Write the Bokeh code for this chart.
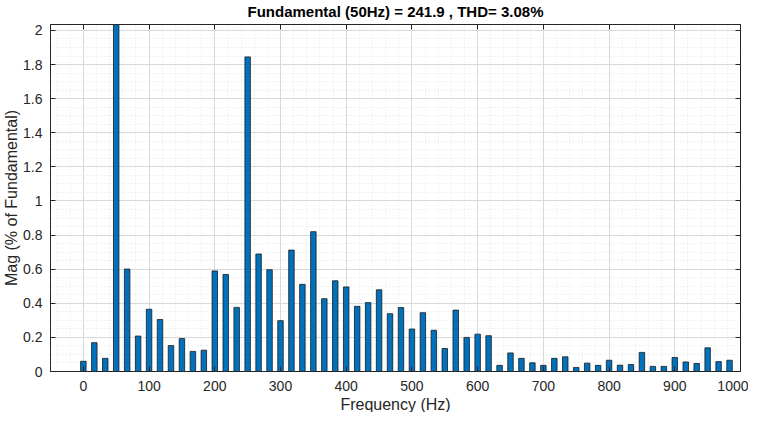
from bokeh.plotting import figure
from bokeh.models import LinearAxis, FixedTicker, Range1d, Title
from bokeh.embed import file_html
from bokeh.resources import INLINE

# Frequencies (Hz) and magnitudes (% of fundamental)
freqs = [0, 16.67, 33.33, 50, 66.67, 83.33, 100, 116.67, 133.33, 150,
         166.67, 183.33, 200, 216.67, 233.33, 250, 266.67, 283.33, 300, 316.67,
         333.33, 350, 366.67, 383.33, 400, 416.67, 433.33, 450, 466.67, 483.33,
         500, 516.67, 533.33, 550, 566.67, 583.33, 600, 616.67, 633.33, 650,
         666.67, 683.33, 700, 716.67, 733.33, 750, 766.67, 783.33, 800, 816.67,
         833.33, 850, 866.67, 883.33, 900, 916.67, 933.33, 950, 966.67, 983.33]
mags = [0.060, 0.169, 0.077, 100.0, 0.601, 0.208, 0.365, 0.305, 0.152, 0.193,
        0.118, 0.125, 0.590, 0.569, 0.376, 1.845, 0.689, 0.597, 0.298, 0.712,
        0.511, 0.820, 0.427, 0.532, 0.496, 0.382, 0.404, 0.479, 0.339, 0.375,
        0.249, 0.345, 0.242, 0.135, 0.360, 0.200, 0.219, 0.210, 0.036, 0.109,
        0.077, 0.051, 0.036, 0.077, 0.086, 0.024, 0.049, 0.036, 0.066, 0.037,
        0.041, 0.112, 0.030, 0.030, 0.082, 0.056, 0.047, 0.139, 0.058, 0.066]

x_ticks = [0, 100, 200, 300, 400, 500, 600, 700, 800, 900, 1000]
y_ticks = [0, 0.2, 0.4, 0.6, 0.8, 1.0, 1.2, 1.4, 1.6, 1.8, 2.0]
y_tick_labels = ["0", "0.2", "0.4", "0.6", "0.8", "1", "1.2", "1.4", "1.6", "1.8", "2"]
x_minor = [v for v in range(-40, 1000, 20)]
y_minor = [round(i * 0.05, 2) for i in range(0, 41)]

title_text = "Fundamental (50Hz) = 241.9 , THD= 3.08%"
x_label = "Frequency (Hz)"
y_label = "Mag (% of Fundamental)"
FONT = "Liberation Sans"
AX = "#262626"

p = figure(width=748, height=412, output_backend="svg", toolbar_location=None,
           x_range=Range1d(-50, 1000), y_range=Range1d(0, 2.035),
           min_border_left=0, min_border_right=8, min_border_top=0, min_border_bottom=0,
           title=title_text)

p.vbar(x=freqs, top=mags, width=8.33, bottom=0, fill_color="#0072BD",
       line_color="#1a1a1a", line_width=0.8)

p.title.align = "center"
p.title.text_font = FONT
p.title.text_font_size = "15px"
p.title.text_font_style = "bold"
p.title.text_color = "#000000"
p.title.standoff = 1
p.title.offset = 0

xt = FixedTicker(ticks=x_ticks, minor_ticks=x_minor)
yt = FixedTicker(ticks=y_ticks, minor_ticks=y_minor)

def style_axis(ax, ticker, show_labels=True):
    ax.ticker = ticker
    ax.axis_line_color = AX
    ax.major_tick_line_color = AX
    ax.minor_tick_line_color = None
    ax.major_tick_in = 5
    ax.major_tick_out = 0
    ax.major_label_text_font = FONT
    ax.major_label_text_font_size = "14px"
    ax.major_label_text_color = AX
    ax.axis_label_text_font = FONT
    ax.axis_label_text_font_size = "16px"
    ax.axis_label_text_font_style = "normal"
    ax.axis_label_text_color = AX
    if not show_labels:
        ax.major_label_text_color = None
        ax.major_label_text_font_size = "1px"
        ax.major_label_standoff = 0

xa = p.xaxis[0]
ya = p.yaxis[0]
style_axis(xa, xt)
style_axis(ya, yt)
ya.axis_label = y_label
xa.major_label_standoff = 5
ya.major_label_standoff = 4
ya.axis_label_standoff = 0
ya.major_label_overrides = {t: s for t, s in zip(y_ticks, y_tick_labels)}
xa.major_label_overrides = {t: str(t) for t in x_ticks}

top_ax = LinearAxis()
right_ax = LinearAxis()
style_axis(top_ax, xt, show_labels=False)
style_axis(right_ax, yt, show_labels=False)
p.add_layout(top_ax, "above")
p.add_layout(right_ax, "right")

# x-axis title as a compact panel below the tick labels
p.add_layout(Title(text=x_label, align="center", text_font=FONT,
                   text_font_size="16px", text_font_style="normal",
                   text_color=AX, standoff=0, offset=0), "below")

p.outline_line_color = AX

for g, t in ((p.xgrid[0], xt), (p.ygrid[0], yt)):
    g.ticker = t
    g.grid_line_color = "#d9d9d9"
    g.grid_line_width = 1
    g.minor_grid_line_color = "#e6e6e6"
    g.minor_grid_line_dash = "1 2"
    g.minor_grid_line_width = 1

p.background_fill_color = "white"
p.border_fill_color = "white"

open("out.html", "w").write(file_html(p, INLINE))
